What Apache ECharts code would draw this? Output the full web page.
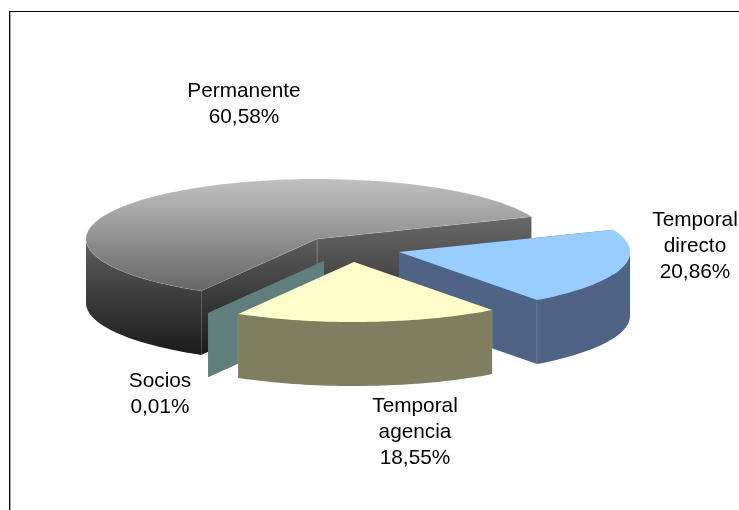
<!DOCTYPE html>
<html>
<head>
<meta charset="utf-8">
<style>html,body{margin:0;padding:0;background:#fff}#c{width:739px;height:510px}</style>
<script src="https://cdn.jsdelivr.net/npm/echarts@6/dist/echarts.min.js"></script>
</head>
<body>
<div id="c"></div>
<script>
// Data (counter-clockwise order around the pie)
const categories = ['Permanente', 'Socios', 'Temporal\nagencia', 'Temporal\ndirecto'];
const shares = [60.58, 0.01, 18.55, 20.86];

// Layout of the tilted pie
const CX = 317, CY = 239, RX = 231, RY = 60, DEPTH = 64, START_DEG = 21.8;
const explodeOffsets = [[0, 0], [7, 22], [37, 23], [82, 13]];
const labelCenters = [[244, 104], [160, 394], [415, 432], [695, 246]];
const paintOrder = [0, 2, 3, 1];   // Permanente, Socios, Agencia above Directo

const G = echarts.graphic.LinearGradient;
const solid = (top, side) => ({ top, wall: side, rim: side, edge: 'rgba(255,255,255,0.25)' });
const looks = [
  {
    top: new G(0, 180, 0, 291, [{ offset: 0, color: '#c0c0c0' }, { offset: 1, color: '#666666' }], true),
    wall: new G(0, 217, 0, 354, [{ offset: 0, color: '#686868' }, { offset: 1, color: '#1b1b1b' }], true),
    rim: new G(0, 240, 0, 354, [{ offset: 0, color: '#5e5e5e' }, { offset: 1, color: '#1b1b1b' }], true),
    edge: 'rgba(255,255,255,0.2)'
  },
  solid('#99ccff', '#5f7f7f'),
  solid('#ffffcc', '#7f7f60'),
  solid('#99ccff', '#4d6485')
];

const total = shares.reduce((a, b) => a + b, 0);
function rim(t, ox, oy, dz) {
  const a = t * Math.PI / 180;
  return [CX + ox + RX * Math.cos(a), CY + oy - RY * Math.sin(a) + dz];
}
function arc(t0, t1, ox, oy, dz) {
  const n = Math.max(1, Math.ceil(Math.abs(t1 - t0) / 1.5)), pts = [];
  for (let i = 0; i <= n; i++) pts.push(rim(t0 + (t1 - t0) * i / n, ox, oy, dz));
  return pts;
}

function renderItem(params, api) {
  const idx = params.dataIndex;
  let before = 0;
  for (let i = 0; i < idx; i++) before += shares[i];
  const value = api.value(0);
  const t0 = START_DEG + before / total * 360;
  const t1 = t0 + value / total * 360;
  const [ox, oy] = explodeOffsets[idx];
  const look = looks[idx];
  const z = paintOrder[idx] * 10;
  const apex = [CX + ox, CY + oy];
  const apexLow = [apex[0], apex[1] + DEPTH];
  const children = [];
  const wall = (t, zz) => {
    const a = rim(t, ox, oy, 0), b = rim(t, ox, oy, DEPTH);
    children.push({ type: 'polygon', z2: z + zz, shape: { points: [apex, a, b, apexLow] },
      style: { fill: look.wall } });
    if (idx !== 1) {
      children.push({ type: 'line', z2: z + zz + 1, shape: { x1: a[0], y1: a[1], x2: b[0], y2: b[1] },
        style: { stroke: look.edge, lineWidth: 1 } });
    }
    if (idx === 0) {
      children.push({ type: 'line', z2: z + zz + 1, shape: { x1: apex[0], y1: apex[1], x2: apexLow[0], y2: apexLow[1] },
        style: { stroke: look.edge, lineWidth: 1 } });
    }
  };
  wall(t0, 0);
  wall(t1, 2);
  // outer wall: only the part of the rim that faces the viewer
  const segs = [[180, 360], [540, 720]];
  segs.forEach(([lo, hi]) => {
    const a0 = Math.max(t0, lo), a1 = Math.min(t1, hi);
    if (a1 > a0) {
      children.push({ type: 'polygon', z2: z + 4,
        shape: { points: arc(a0, a1, ox, oy, 0).concat(arc(a1, a0, ox, oy, DEPTH)) },
        style: { fill: look.rim } });
    }
  });
  if (idx !== 1) {
    children.push({ type: 'polygon', z2: z + 6,
      shape: { points: [apex].concat(arc(t0, t1, ox, oy, 0)) },
      style: { fill: look.top, stroke: idx === 0 ? look.edge : null, lineWidth: 0.6 } });
  }
  const [lx, ly] = labelCenters[idx];
  children.push({ type: 'text', z2: 100,
    style: {
      x: lx, y: ly, text: categories[idx] + '\n' + value.toFixed(2).replace('.', ',') + '%',
      fill: '#000', align: 'center', verticalAlign: 'middle', lineHeight: 26,
      font: '20.8px "Liberation Sans", Arial, sans-serif'
    } });
  return { type: 'group', children };
}

const chart = echarts.init(document.getElementById('c'), null, { renderer: 'canvas' });
chart.setOption({
  animation: false,
  backgroundColor: '#ffffff',
  graphic: [
    { type: 'rect', silent: true, shape: { x: 9, y: 11, width: 730, height: 1 }, style: { fill: '#000' } },
    { type: 'rect', silent: true, shape: { x: 9, y: 11, width: 1, height: 499 }, style: { fill: '#000' } },
    { type: 'rect', silent: true, shape: { x: 10, y: 12, width: 1, height: 498 }, style: { fill: '#b0b0b0' } }
  ],
  series: [{
    type: 'custom',
    coordinateSystem: 'none',
    silent: true,
    renderItem,
    data: shares.map((v, i) => ({ name: categories[i], value: [v] }))
  }]
});
</script>
</body>
</html>
